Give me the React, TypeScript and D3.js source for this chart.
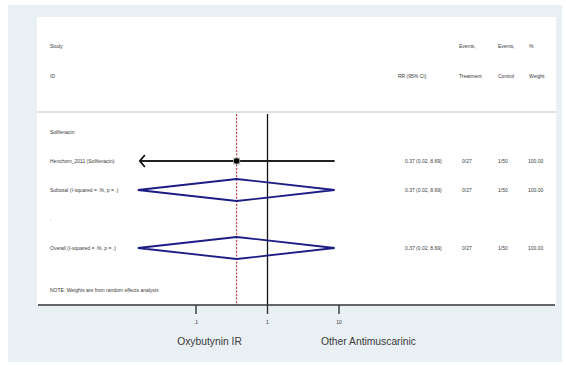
import React from "react";
import * as d3 from "d3";

const headerTop = ["Study", "", "Events,", "Events,", "%"];
const headerBottom = ["ID", "RR (95% CI)", "Treatment", "Control", "Weight"];

const rowLabels = [
  "Solifenacin",
  "Henchorn_2011 (Solifenacin)",
  "Subtotal  (I-squared = .%, p = .)",
  ".",
  "Overall  (I-squared = .%, p = .)",
];
const rowTypes = ["group", "study", "subtotal", "blank", "overall"];
const estimates = [NaN, 0.37, 0.37, NaN, 0.37];
const lowerCI = [NaN, 0.0164, 0.0164, NaN, 0.0164];
const upperCI = [NaN, 8.69, 8.69, NaN, 8.69];
const ciText = ["", "0.37 (0.02, 8.69)", "0.37 (0.02, 8.69)", "", "0.37 (0.02, 8.69)"];
const eventsTreatment = ["", "0/27", "0/27", "", "0/27"];
const eventsControl = ["", "1/50", "1/50", "", "1/50"];
const weights = ["", "100.00", "100.00", "", "100.00"];

const tickValues = [0.1, 1, 10];
const tickLabels = [".1", "1", "10"];
const axisLabels = ["Oxybutynin IR", "Other Antimuscarinic"];
const note = "NOTE: Weights are from random effects analysis";

const W = 566;
const H = 365;
const font = "Liberation Sans, Arial, sans-serif";
const tiny = 5;
const txt = "#3a3a3a";
const navy = "#1c1c86";

export default function App() {
  const x = d3.scaleLog().domain([0.1, 10]).range([196, 339]);
  const y = d3.scaleLinear().domain([0, rowLabels.length - 1]).range([132, 248]);
  const colX = [50, 398, 459, 498, 529];
  const dataColX = [405, 462, 498, 528];
  const axisY = 305;
  const pooledEst = estimates[4];

  return (
    <svg
      width={W}
      height={H}
      style={{ position: "absolute", left: 0, top: 0 }}
      fontFamily={font}
    >
      <rect x={0} y={0} width={W} height={H} fill="#ffffff" />
      <rect x={8} y={5} width={554} height={357} fill="#e9f0f3" />
      <rect x={37} y={17} width={519} height={288} fill="#ffffff" />
      <line x1={37} x2={556} y1={112} y2={112} stroke="#d4d8da" strokeWidth={1.5} />

      {/* header */}
      {headerTop.map((t, i) => (
        <text key={"ht" + i} x={colX[i]} y={48} fontSize={tiny} fill={txt}>
          {t}
        </text>
      ))}
      {headerBottom.map((t, i) => (
        <text key={"hb" + i} x={colX[i]} y={78} fontSize={tiny} fill={txt}>
          {t}
        </text>
      ))}

      {/* reference lines */}
      <line x1={x(1)} x2={x(1)} y1={114} y2={axisY} stroke="#111" strokeWidth={1.3} />
      <line
        x1={x(pooledEst)}
        x2={x(pooledEst)}
        y1={114}
        y2={axisY}
        stroke="#c8303a"
        strokeWidth={1.1}
        strokeDasharray="2,1.6"
      />

      {/* rows */}
      {rowLabels.map((lab, i) => {
        const yy = y(i);
        const type = rowTypes[i];
        const els: React.ReactNode[] = [];
        els.push(
          <text key="l" x={50} y={yy + 1.7} fontSize={tiny} fill={txt}>
            {lab}
          </text>
        );
        if (ciText[i]) {
          const vals = [ciText[i], eventsTreatment[i], eventsControl[i], weights[i]];
          vals.forEach((v, j) =>
            els.push(
              <text key={"c" + j} x={dataColX[j]} y={yy + 1.7} fontSize={tiny} fill={txt}>
                {v}
              </text>
            )
          );
        }
        if (type === "study") {
          const xl = x(lowerCI[i]);
          const xu = x(upperCI[i]);
          const xe = x(estimates[i]);
          els.push(
            <line key="ci" x1={xl} x2={xu} y1={yy} y2={yy} stroke="#222" strokeWidth={1.8} />
          );
          els.push(
            <path
              key="arr"
              d={`M${xl + 5},${yy - 6} L${xl},${yy} L${xl + 5},${yy + 6}`}
              fill="none"
              stroke="#111"
              strokeWidth={1.8}
            />
          );
          els.push(
            <rect key="box" x={xe - 3.5} y={yy - 3.5} width={7} height={7} fill="#b8b8b8" />
          );
          els.push(<circle key="pt" cx={xe} cy={yy} r={2.8} fill="#000" />);
        }
        if (type === "subtotal" || type === "overall") {
          const xl = x(lowerCI[i]);
          const xu = x(upperCI[i]);
          const xe = x(estimates[i]);
          const h = 11;
          els.push(
            <path
              key="dia"
              d={`M${xl - 2},${yy} L${xe},${yy - h} L${xu},${yy} L${xe},${yy + h} Z`}
              fill="none"
              stroke={navy}
              strokeWidth={1.8}
              strokeLinejoin="miter"
            />
          );
        }
        return <g key={"r" + i}>{els}</g>;
      })}

      <text x={50} y={292} fontSize={tiny} fill={txt}>
        {note}
      </text>

      {/* axis */}
      <line x1={38} x2={555} y1={axisY} y2={axisY} stroke="#333" strokeWidth={1.6} />
      {tickValues.map((t, i) => (
        <g key={"t" + i}>
          <line x1={x(t)} x2={x(t)} y1={axisY} y2={axisY + 9} stroke="#333" strokeWidth={1.4} />
          <text x={x(t)} y={324} fontSize={tiny} fill={txt} textAnchor="middle">
            {tickLabels[i]}
          </text>
        </g>
      ))}
      <text x={209.5} y={345} fontSize={10.3} fill={txt} textAnchor="middle">
        {axisLabels[0]}
      </text>
      <text x={368.5} y={345} fontSize={10.3} fill={txt} textAnchor="middle">
        {axisLabels[1]}
      </text>
    </svg>
  );
}
